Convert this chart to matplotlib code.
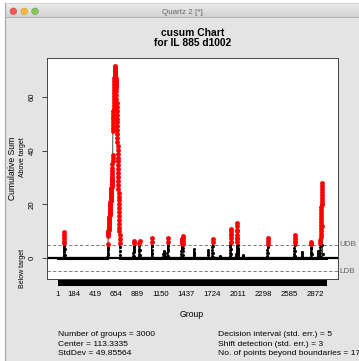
import numpy as np
import matplotlib
matplotlib.use("Agg")
import matplotlib.pyplot as plt
from matplotlib.patches import Rectangle, Circle
from matplotlib.colors import LinearSegmentedColormap
from matplotlib.transforms import blended_transform_factory

plt.rcParams["font.family"] = ["Liberation Sans", "DejaVu Sans"]

N_GROUPS = 3000
DECISION = 5
CENTER = 113.3335
STD_DEV = 49.85564
SHIFT = 3
N_BEYOND = 17

X_LABELS = [1, 184, 419, 654, 889, 1150, 1437, 1724, 2011, 2298, 2585, 2872]
Y_TICKS = [0, 20, 40, 60]

# runs of non-zero cumulative sums (start group, values)
SPIKE_STARTS = [66, 556, 845, 908, 1048, 1180, 1224, 1380, 1518, 1680, 1725,
                1810, 1925, 1995, 2070, 2340, 2640, 2725, 2826, 2905, 2928]
SPIKE_VALUES = [
    [0.5, 1.3, 2.1, 2.9, 3.8, 4.6, 5.5, 6.4, 7.4, 8.5, 9.6, 3.5, 1.2],
    [0.4, 1.2, 2.0, 2.9, 3.8, 4.6, 5.2,
     8.3, 8.8, 9.3, 9.7, 10.2, 10.6, 11.1, 11.6, 12.0, 12.5, 13.0, 13.5, 14.0,
     14.4, 14.9, 15.4, 15.9, 16.3, 16.8, 17.3, 17.7, 18.2, 18.7, 19.2, 19.7,
     20.2, 20.7, 21.2, 21.6, 22.1, 22.6, 23.1, 23.6, 24.1, 24.6, 25.1, 25.6,
     26.1, 26.6, 27.1, 27.6, 28.1, 28.6, 29.1, 29.6, 30.1,
     31.3, 32.5, 33.7, 34.9, 36.1, 37.3, 38.5,
     47.2, 48.3, 49.4, 50.5, 51.6, 52.7, 53.8, 54.9, 56.0, 57.1, 58.2, 59.3,
     60.4, 61.5, 62.6, 63.7, 64.8, 65.9, 67.0, 68.1, 69.2, 70.3, 71.4,
     70.8, 70.2, 69.6, 69.1, 68.5, 68.0, 67.4, 66.9, 66.3, 65.8, 65.3, 64.8,
     64.3, 63.8, 63.3,
     62.1, 60.6, 59.2, 57.7, 56.3, 54.8, 53.4, 51.9, 50.5, 49.0, 47.6, 46.1,
     44.7, 43.2, 41.8, 40.3, 38.9, 37.4, 36.0, 34.5, 33.1, 31.6, 30.2, 28.7,
     27.3, 25.8, 24.4, 22.9, 21.5, 20.0, 18.6, 17.1, 15.7, 14.2, 12.8, 11.3,
     9.9, 8.4, 7.0, 5.5, 4.1, 2.6, 1.2],
    [0.8, 1.7, 2.6, 3.5, 4.4, 5.7, 6.4, 4.0, 2.2, 0.9],
    [0.7, 1.6, 2.5, 3.5, 4.5, 5.6, 6.4, 3.0, 1.0],
    [1.4, 2.9, 4.4, 6.0, 7.3, 4.5, 2.0, 0.5],
    [0.5, 1.4, 2.3, 1.6, 0.8, 1.8, 2.6, 1.2],
    [0.8, 2.0, 3.3, 4.6, 6.0, 7.3, 5.0, 2.5, 0.6],
    [0.5, 1.5, 2.5, 3.6, 4.5, 5.6, 6.5, 7.2, 6.0, 4.7, 3.4, 4.5, 5.8, 7.0,
     8.2, 7.5, 6.3, 5.2, 3.8, 2.5, 1.3, 0.2],
    [1.0, 2.0, 3.3, 2.2, 1.0],
    [1.1, 2.3, 3.1, 1.5],
    [0.8, 1.9, 3.0, 4.2, 5.8, 7.1, 4.5, 2.0, 0.5],
    [0.4, 0.9, 0.3],
    [0.7, 1.8, 2.9, 4.0, 5.0, 6.1, 7.4, 8.7, 9.9, 11.0, 9.0, 6.0, 3.5, 1.5],
    [0.6, 1.6, 2.7, 3.6, 4.6, 5.8, 7.0, 8.5, 10.2, 11.8, 12.9, 10.5, 7.5,
     4.8, 3.2, 2.0, 2.9, 3.8, 2.4, 1.3, 2.1, 1.0, 0.2],
    [0.5, 1.2, 0.6],
    [0.7, 1.8, 2.9, 4.0, 5.1, 6.2, 7.3, 4.4, 1.8],
    [0.6, 1.6, 2.6, 3.7, 4.9, 6.3, 7.4, 8.6, 5.5, 2.8, 0.8],
    [0.7, 1.7, 2.4, 1.2],
    [0.5, 1.4, 2.3, 3.3, 4.3, 5.2, 6.1, 3.7, 1.5],
    [0.8, 1.8, 2.8, 1.5],
    [0.9, 2.0, 3.1, 4.2, 5.5, 6.7, 7.8, 8.9, 10.0, 11.2, 12.3, 13.4, 14.5,
     15.6, 16.7, 17.8, 18.9, 20.0, 21.1, 22.3, 23.4, 24.5, 25.6, 26.7, 27.8,
     20.0, 12.0, 5.0, 1.5],
]

groups = np.arange(1, N_GROUPS + 1)
cusum = np.zeros(N_GROUPS)
for start, vals in zip(SPIKE_STARTS, SPIKE_VALUES):
    cusum[start - 1:start - 1 + len(vals)] = vals
beyond = cusum > DECISION

W, H = 359, 361
fig = plt.figure(figsize=(W / 100, H / 100), dpi=100)
fig.patch.set_facecolor("white")

# window chrome, drawn in pixel coordinates
bg = fig.add_axes([0, 0, 1, 1])
bg.axis("off")
bg.add_patch(Rectangle((5, 17), 360, 350, color="#e4e4e4", zorder=0))
tb = LinearSegmentedColormap.from_list("tb", ["#ededed", "#d3d3d3"])
bg.imshow(np.linspace(0, 1, 30).reshape(-1, 1), extent=(5, 365, 17, 3),
          cmap=tb, aspect="auto", zorder=1)
bg.plot([5, 365], [17, 17], color="#b4b4b4", lw=0.7, zorder=2)
bg.plot([5, 365], [3, 3], color="#c8c8c8", lw=0.5, zorder=2)
bg.plot([5, 5], [3, 361], color="#a8a8a8", lw=0.8, zorder=2)
for cx, fc, ec in [(13.3, "#f25a55", "#d0443f"), (24.3, "#f4bb3c", "#d39a26"),
                   (35.0, "#86c45d", "#62a143")]:
    bg.add_patch(Circle((cx, 11.3), 3.3, fc=fc, ec=ec, lw=0.4, zorder=3))
bg.text(182.7, 12.0, "Quartz 2 [*]", ha="center", va="center", fontsize=5.8,
        color="#666666")
bg.set_xlim(0, W)
bg.set_ylim(H, 0)

bg.text(192.5, 32.7, "cusum Chart", ha="center", va="center", fontsize=7.4,
        fontweight="bold")
bg.text(192.5, 43.5, "for IL 885 d1002", ha="center", va="center",
        fontsize=7.4, fontweight="bold")
bg.text(192, 314.3, "Group", ha="center", va="center", fontsize=6.2)
bg.text(12.3, 168, "Cumulative Sum", ha="center", va="center", fontsize=6.2,
        rotation=90)
bg.text(22.7, 157.5, "Above target", ha="center", va="center", fontsize=5.0,
        rotation=90)
bg.text(22.7, 268, "Below target", ha="center", va="center", fontsize=5.0,
        rotation=90)

left_stats = ["Number of groups = %d" % N_GROUPS,
              "Center = %s" % CENTER,
              "StdDev = %s" % STD_DEV]
right_stats = ["Decision interval (std. err.) = %d" % DECISION,
               "Shift detection (std. err.) = %d" % SHIFT,
               "No. of points beyond boundaries = %d" % N_BEYOND]
for i, (ls, rs) in enumerate(zip(left_stats, right_stats)):
    y = 334.3 + i * 9.7
    bg.text(58, y, ls, ha="left", va="center", fontsize=6.1)
    bg.text(218, y, rs, ha="left", va="center", fontsize=6.1)

# plot region
x0, x1, y0, y1 = 47, 338, 58, 279
ax = fig.add_axes([x0 / W, 1 - y1 / H, (x1 - x0) / W, (y1 - y0) / H])
ax.set_facecolor("white")
ax.set_xlim(-119, 3129)
ax.set_ylim(-7.8, 74.5)

ax.axhline(0, color="black", lw=1.6, zorder=2)
for lvl in (DECISION, -DECISION):
    ax.axhline(lvl, color="#666666", lw=0.6, ls=(0, (4, 2.5)), zorder=1)
ax.plot(groups, cusum, color="black", lw=0.5, zorder=3)
ax.plot(groups[~beyond], cusum[~beyond], "o", color="black", ms=2.2, mew=0,
        zorder=4)
ax.plot(groups[beyond], cusum[beyond], "o", color="#ff0000", ms=3.5, mew=0,
        zorder=5)

tr = blended_transform_factory(ax.transAxes, ax.transData)
ax.text(1.006, DECISION, "UDB", transform=tr, ha="left", va="center",
        fontsize=5.9, color="#666666", clip_on=False)
ax.text(1.006, -DECISION, "LDB", transform=tr, ha="left", va="center",
        fontsize=5.9, color="#666666", clip_on=False)

ax.set_xticks(X_LABELS)
ax.set_xticklabels([str(v) for v in X_LABELS])
ax.set_xticks(groups, minor=True)
ax.tick_params(axis="x", which="both", length=4.3, width=0.5, color="black",
               labelsize=5.6, pad=4.0)
ax.set_yticks(Y_TICKS)
ax.set_yticklabels([str(v) for v in Y_TICKS], rotation=90, va="center")
ax.tick_params(axis="y", length=3.6, width=0.5, labelsize=5.6, pad=4.3)
for sp in ax.spines.values():
    sp.set_color("#444444")
    sp.set_linewidth(0.7)

fig.savefig("out.png", dpi=100)
